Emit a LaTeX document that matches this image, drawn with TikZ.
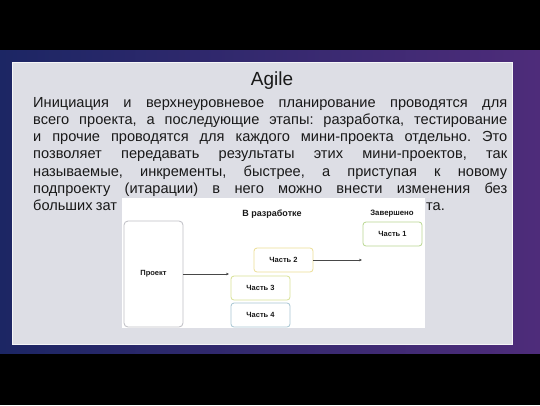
\documentclass[tikz,border=0pt]{standalone}
\usepackage{fontspec}
\setmainfont{Liberation Sans}
\usetikzlibrary{arrows.meta}
\definecolor{Bg1}{RGB}{28,38,100}
\definecolor{Bg2}{RGB}{78,44,122}
\definecolor{Pnl}{RGB}{221,222,229}
\definecolor{Gry}{RGB}{190,190,196}
\definecolor{Ylw}{RGB}{236,222,150}
\definecolor{Lim}{RGB}{216,226,150}
\definecolor{Blu}{RGB}{168,198,210}
\definecolor{Grn}{RGB}{185,215,145}
\definecolor{Ink}{RGB}{25,25,25}

\begin{document}
\begin{tikzpicture}[x=1pt,y=-1pt,
    part/.style={draw, rounded corners=3pt, fill=white, line width=0.8pt,
      minimum width=59pt, minimum height=24pt, text=Ink,
      font=\fontsize{7.5}{8}\selectfont\bfseries},
    flow/.style={draw=Ink!80, line width=0.5pt, -{Stealth[length=3pt,width=2.6pt]}}]
  \useasboundingbox (0,0) rectangle (540,405);
  \fill[black] (0,0) rectangle (540,405);
  \shade[left color=Bg1, right color=Bg2] (0,50) rectangle (540,353);
  \fill[Pnl] (12,62) rectangle (512,344);
  \draw[white!70!Pnl, line width=0.8pt] (12,62) rectangle (512,344);
  % title and text
  \node[font=\fontsize{19}{20}\selectfont, anchor=base, text=Ink] (title) at (272,85) {Agile};
  \node[anchor=north west, inner sep=0pt, text width=474pt, align=justify, text=Ink,
        font=\fontsize{14.6}{17.2}\selectfont] (body) at (33,97)
    {\frenchspacing\hyphenpenalty=10000 \exhyphenpenalty=10000
     \spaceskip=0.22em plus 1em minus 0.06em
     Инициация и верхнеуровневое планирование проводятся для\linebreak
     всего проекта, а последующие этапы: разработка, тестирование\linebreak
     и прочие проводятся для каждого мини-проекта отдельно. Это\linebreak
     позволяет передавать результаты этих мини-проектов, так\linebreak
     называемые, инкременты, быстрее, а приступая к новому\linebreak
     подпроекту (итарации) в него можно внести изменения без\linebreak
     больших зат};
  \node[anchor=base west, inner sep=0pt, text=Ink, font=\fontsize{14.6}{17.2}\selectfont] (tail) at (426,210) {та.};
  % diagram
  \fill[white] (122,198) rectangle (425,328);
  \node[font=\fontsize{9}{10}\selectfont\bfseries, text=Ink] (dev) at (272,214) {В разработке};
  \node[font=\fontsize{7.8}{8}\selectfont\bfseries, text=Ink] (done) at (392,214) {Завершено};
  \node[part, draw=Gry, minimum height=106pt, rounded corners=4pt] (proj) at (153.5,274) {Проект};
  \node[part, draw=Grn] (p1) at (392.5,234) {Часть 1};
  \node[part, draw=Ylw] (p2) at (283.5,260) {Часть 2};
  \node[part, draw=Lim] (p3) at (260.5,288) {Часть 3};
  \node[part, draw=Blu] (p4) at (260.5,315) {Часть 4};
  \coordinate (in) at (229,274);
  \coordinate (out) at (362,260);
  \draw[flow] (proj.east) -- (in);
  \draw[flow] (p2.east) -- (out);
\end{tikzpicture}
\end{document}
